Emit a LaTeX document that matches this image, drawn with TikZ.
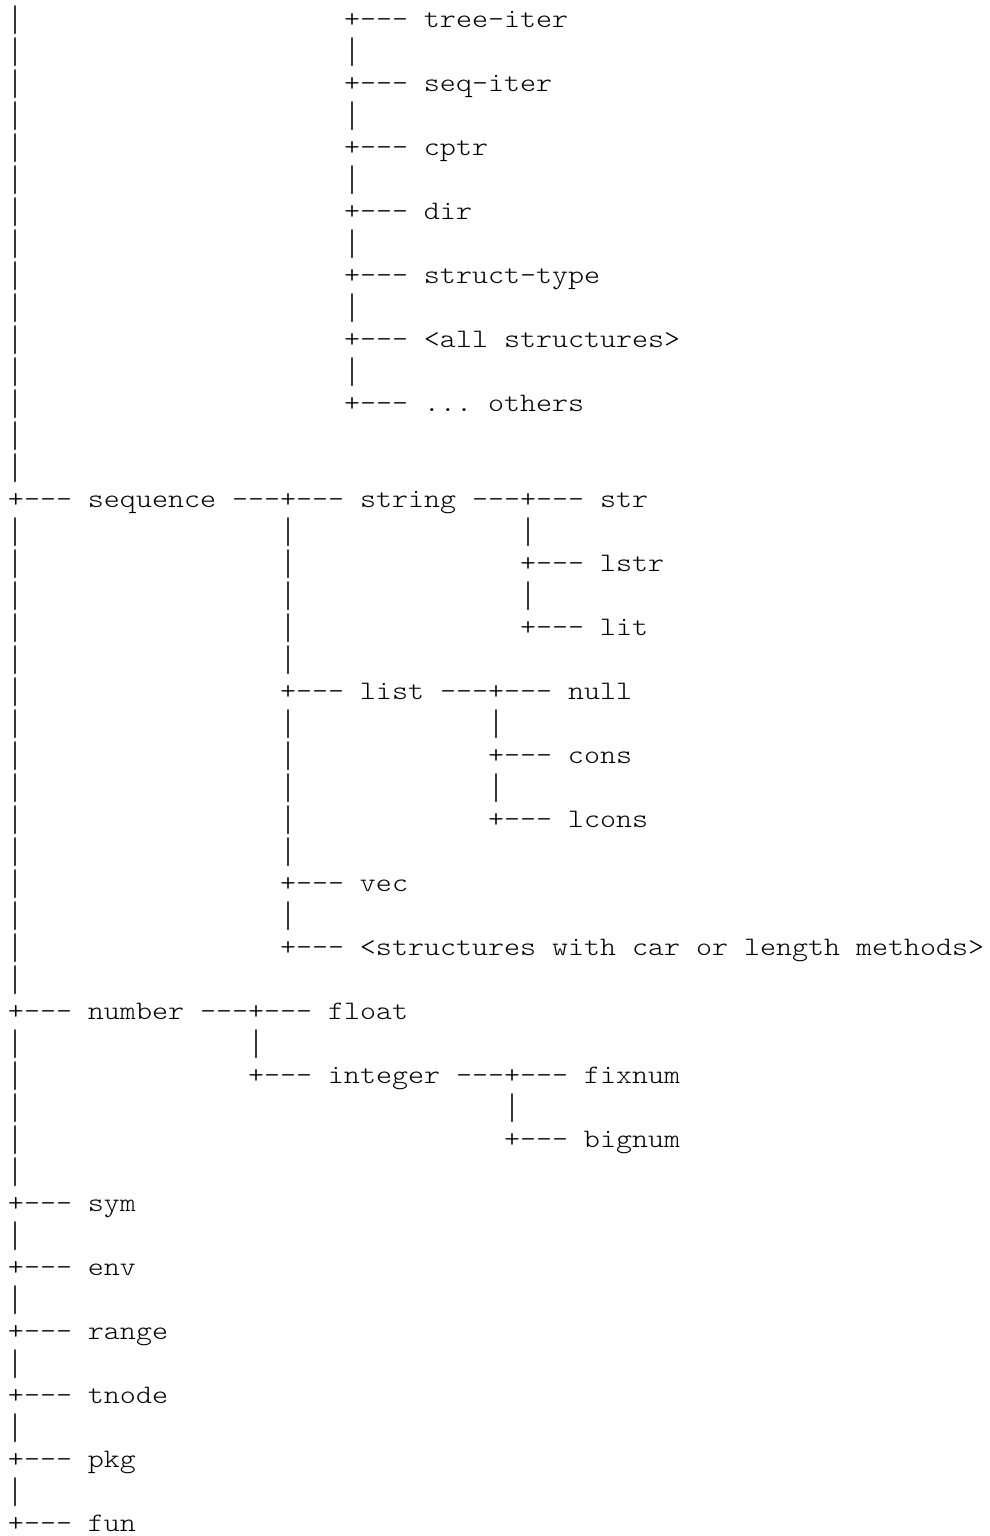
\documentclass[tikz,border=0pt]{standalone}
\usepackage{graphicx}
\usepackage{fontspec}
\setmonofont{lmmonolt10-regular.otf}[FakeStretch=1.143]
\tikzset{
  txt/.style={anchor=base west, inner sep=0pt, outer sep=0pt, text=black,
    font=\ttfamily\fontsize{26.67pt}{32pt}\selectfont},
}
% a vertical bar character, stretched to the height of the reference's bar glyph
\newcommand\vb{\raisebox{-7.5pt}{\resizebox*{\width}{29pt}{\raisebox{\depth}{|}}}}
% \T{name}{row}{column}{text}
\newcommand\T[4]{\node[txt] (#1) at ({8+16*#3},{27.5+32*#2}) {#4};}
\begin{document}
\begin{tikzpicture}[x=1pt,y=-1pt]
\useasboundingbox (0,0) rectangle (989,1536);
% left trunk, upper part
\T{b0}{0}{0}{\vb}   \T{t0}{0}{21}{+--- tree-iter}
\T{b1}{1}{0}{\vb}   \T{v1}{1}{21}{\vb}
\T{b2}{2}{0}{\vb}   \T{t2}{2}{21}{+--- seq-iter}
\T{b3}{3}{0}{\vb}   \T{v3}{3}{21}{\vb}
\T{b4}{4}{0}{\vb}   \T{t4}{4}{21}{+--- cptr}
\T{b5}{5}{0}{\vb}   \T{v5}{5}{21}{\vb}
\T{b6}{6}{0}{\vb}   \T{t6}{6}{21}{+--- dir}
\T{b7}{7}{0}{\vb}   \T{v7}{7}{21}{\vb}
\T{b8}{8}{0}{\vb}   \T{t8}{8}{21}{+--- struct-type}
\T{b9}{9}{0}{\vb}   \T{v9}{9}{21}{\vb}
\T{b10}{10}{0}{\vb} \T{t10}{10}{21}{+--- <all structures>}
\T{b11}{11}{0}{\vb} \T{v11}{11}{21}{\vb}
\T{b12}{12}{0}{\vb} \T{t12}{12}{21}{+--- ... others}
\T{b13}{13}{0}{\vb}
\T{b14}{14}{0}{\vb}
% sequence
\T{seq}{15}{0}{+--- sequence ---+--- string ---+--- str}
\T{b16}{16}{0}{\vb} \T{s16}{16}{17}{\vb} \T{g16}{16}{32}{\vb}
\T{b17}{17}{0}{\vb} \T{s17}{17}{17}{\vb} \T{g17}{17}{32}{+--- lstr}
\T{b18}{18}{0}{\vb} \T{s18}{18}{17}{\vb} \T{g18}{18}{32}{\vb}
\T{b19}{19}{0}{\vb} \T{s19}{19}{17}{\vb} \T{g19}{19}{32}{+--- lit}
\T{b20}{20}{0}{\vb} \T{s20}{20}{17}{\vb}
\T{b21}{21}{0}{\vb} \T{s21}{21}{17}{+--- list ---+--- null}
\T{b22}{22}{0}{\vb} \T{s22}{22}{17}{\vb} \T{l22}{22}{30}{\vb}
\T{b23}{23}{0}{\vb} \T{s23}{23}{17}{\vb} \T{l23}{23}{30}{+--- cons}
\T{b24}{24}{0}{\vb} \T{s24}{24}{17}{\vb} \T{l24}{24}{30}{\vb}
\T{b25}{25}{0}{\vb} \T{s25}{25}{17}{\vb} \T{l25}{25}{30}{+--- lcons}
\T{b26}{26}{0}{\vb} \T{s26}{26}{17}{\vb}
\T{b27}{27}{0}{\vb} \T{s27}{27}{17}{+--- vec}
\T{b28}{28}{0}{\vb} \T{s28}{28}{17}{\vb}
\T{b29}{29}{0}{\vb} \T{s29}{29}{17}{+--- <structures with car or length methods>}
\T{b30}{30}{0}{\vb}
% number
\T{num}{31}{0}{+--- number ---+--- float}
\T{b32}{32}{0}{\vb} \T{n32}{32}{15}{\vb}
\T{b33}{33}{0}{\vb} \T{n33}{33}{15}{+--- integer ---+--- fixnum}
\T{b34}{34}{0}{\vb} \T{i34}{34}{31}{\vb}
\T{b35}{35}{0}{\vb} \T{i35}{35}{31}{+--- bignum}
\T{b36}{36}{0}{\vb}
% leaves
\T{sym}{37}{0}{+--- sym}
\T{b38}{38}{0}{\vb}
\T{env}{39}{0}{+--- env}
\T{b40}{40}{0}{\vb}
\T{rng}{41}{0}{+--- range}
\T{b42}{42}{0}{\vb}
\T{tnd}{43}{0}{+--- tnode}
\T{b44}{44}{0}{\vb}
\T{pkg}{45}{0}{+--- pkg}
\T{b46}{46}{0}{\vb}
\T{fun}{47}{0}{+--- fun}
\end{tikzpicture}
\end{document}
